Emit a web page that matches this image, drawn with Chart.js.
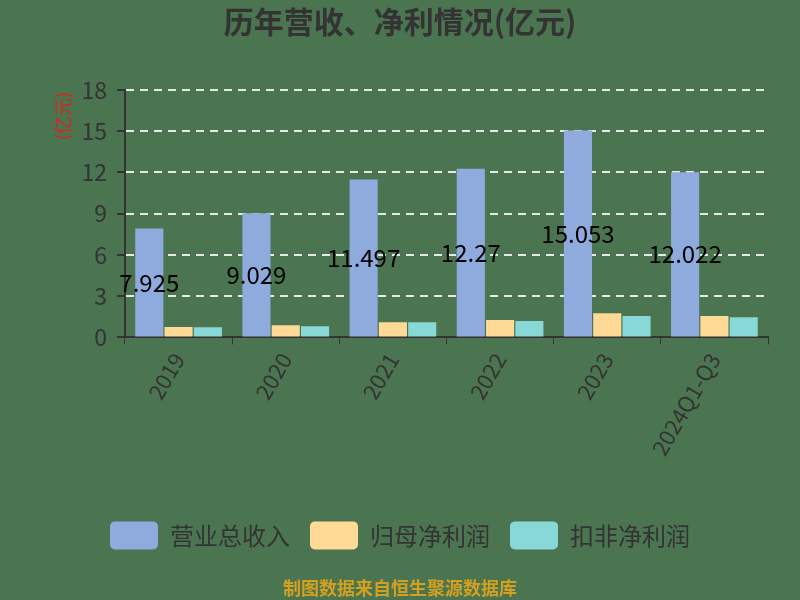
<!DOCTYPE html>
<html>
<head>
<meta charset="utf-8">
<script src="https://cdn.jsdelivr.net/npm/chart.js@4/dist/chart.umd.min.js"></script>
<style>
  html, body { margin: 0; padding: 0; background: #4b7450; }
  #wrap { width: 800px; height: 600px; }
</style>
</head>
<body>
<div id="wrap"><canvas id="chart" width="800" height="600"></canvas></div>
<script>
// chart data
const years = ['2019', '2020', '2021', '2022', '2023', '2024Q1-Q3'];
const revenue = [7.925, 9.029, 11.497, 12.27, 15.053, 12.022];
const netProfit = [0.75, 0.89, 1.11, 1.26, 1.76, 1.55];
const deductedProfit = [0.73, 0.82, 1.11, 1.19, 1.55, 1.47];
const yTicks = [0, 3, 6, 9, 12, 15, 18];

const FONT = '"Noto Sans CJK SC", "Noto Sans", sans-serif';

// value labels in the middle of the revenue bars + the red unit text
const barLabels = {
    id: 'barLabels',
    afterDatasetsDraw(chart) {
        const ctx = chart.ctx;
        const meta = chart.getDatasetMeta(0);
        ctx.save();
        ctx.font = '24px ' + FONT;
        ctx.fillStyle = '#000';
        ctx.textAlign = 'center';
        ctx.textBaseline = 'middle';
        meta.data.forEach((bar, i) => {
            ctx.fillText(String(revenue[i]), bar.x, (bar.y + bar.base) / 2);
        });
        ctx.restore();

        // y axis unit
        ctx.save();
        ctx.translate(63, 116);
        ctx.rotate(-Math.PI / 2);
        ctx.font = '18px ' + FONT;
        ctx.fillStyle = '#e02020';
        ctx.textAlign = 'center';
        ctx.textBaseline = 'middle';
        ctx.fillText('(亿元)', 0, 0);
        ctx.restore();
    }
};

const ctx = document.getElementById('chart').getContext('2d');
new Chart(ctx, {
    type: 'bar',
    data: {
        labels: years,
        datasets: [
            { label: '营业总收入', data: revenue, backgroundColor: '#8faadc' },
            { label: '归母净利润', data: netProfit, backgroundColor: '#ffd996' },
            { label: '扣非净利润', data: deductedProfit, backgroundColor: '#88d8d8' }
        ]
    },
    options: {
        responsive: false,
        animation: false,
        layout: { padding: { left: 32, right: 32, top: 0, bottom: 0 } },
        datasets: { bar: { barPercentage: 0.96, categoryPercentage: 0.82 } },
        plugins: {
            title: {
                display: true,
                text: '历年营收、净利情况(亿元)',
                color: '#333',
                font: { family: FONT, size: 30, weight: 'bold' },
                padding: { top: 4, bottom: 50 }
            },
            subtitle: {
                display: true,
                position: 'bottom',
                text: '制图数据来自恒生聚源数据库',
                color: '#d4a020',
                font: { family: FONT, size: 18, weight: 'bold' },
                padding: { top: 18, bottom: 1 }
            },
            legend: {
                position: 'bottom',
                labels: {
                    color: '#333',
                    font: { family: FONT, size: 24 },
                    boxWidth: 48,
                    boxHeight: 28,
                    padding: 20,
                    useBorderRadius: true,
                    borderRadius: 5
                }
            },
            tooltip: { enabled: false }
        },
        scales: {
            x: {
                afterFit: axis => { axis.height = 164; },
                grid: { display: true, drawOnChartArea: false, tickColor: '#333', tickLength: 7 },
                border: { color: '#333', width: 2 },
                ticks: {
                    color: '#333',
                    font: { family: FONT, size: 22 },
                    maxRotation: 60,
                    minRotation: 60,
                    padding: 4
                }
            },
            y: {
                min: 0,
                max: 18,
                afterFit: axis => { axis.width = 93; },
                afterBuildTicks: axis => { axis.ticks = yTicks.map(v => ({ value: v })); },
                grid: { color: 'rgba(255,255,255,0.85)', lineWidth: 2, tickColor: '#333', tickLength: 8 },
                border: { color: '#333', width: 2, dash: [8, 6] },
                ticks: { color: '#333', font: { family: FONT, size: 23 }, padding: 10 }
            }
        }
    },
    plugins: [barLabels]
});
</script>
</body>
</html>
